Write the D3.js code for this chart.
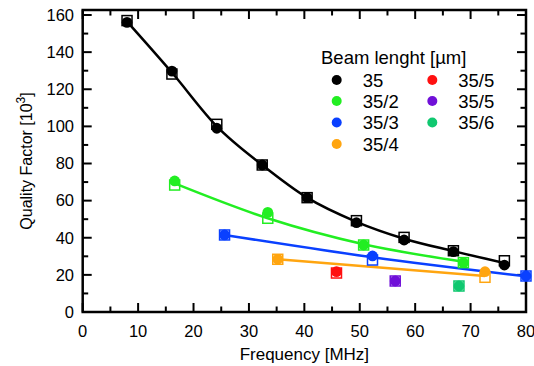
<!DOCTYPE html>
<html><head><meta charset="utf-8">
<script src="https://cdn.jsdelivr.net/npm/d3@7"></script>
<style>body{margin:0;background:#fff}svg{display:block;font-family:"Liberation Sans",Arial,sans-serif}</style>
</head><body><svg id="c" width="534" height="366"></svg>
<script>
// ---- data ----
const seriesNames = ["35","35/2","35/3","35/4","35/5","35/5","35/6"];
const seriesColors = ["#000000","#22ee22","#0a40ff","#ffa510","#ff1010","#7010d8","#10c870"];
const freqs = [
  [8, 16.1, 24.2, 32.4, 40.5, 49.4, 58, 66.9, 76.1],
  [16.6, 33.4, 50.7, 68.7],
  [25.6, 52.3, 80],
  [35.2, 72.6],
  [45.8],
  [56.4],
  [67.9]
];
const qCircle = [
  [156, 129.8, 99, 79.2, 61.6, 48.1, 38.8, 32.5, 25.3],
  [70.6, 53.7, 36.1, 26.6],
  [41.5, 30.2, 19.4],
  [28.4, 21.7],
  [21.7],
  [16.7],
  [14]
];
const qSquare = [
  [157, 128.2, 101.1, 79.2, 61.6, 49.2, 40.2, 33, 27.6],
  [68.4, 50.5, 36.1, 26.6],
  [41.5, 28, 19.4],
  [28.4, 18.7],
  [21],
  [16.7],
  [14]
];
const qFit = [
  [156.5, 129, 100, 79.2, 61.6, 48.6, 39.5, 32.8, 26.4],
  [69.3, 50.5, 36.5, 27.1],
  [41.5, 29.5, 19.2],
  [28.4, 19.4],
  null, null, null
];
const xTicks = [0,10,20,30,40,50,60,70,80];
const yTicks = [0,20,40,60,80,100,120,140,160];

// ---- layout ----
const svg = d3.select("#c");
const L = 82.7, R = 526, T = 10, B = 312;
const x = d3.scaleLinear().domain([0,80]).range([L,R]);
const y = d3.scaleLinear().domain([0,162.7]).range([B,T]);

const xMinor = d3.range(0,81,5), yMinor = d3.range(0,161,10);
const g = svg.append("g");
const tk = (x1,y1,x2,y2)=>g.append("line").attr("x1",x1).attr("y1",y1).attr("x2",x2).attr("y2",y2)
  .attr("stroke","#000").attr("stroke-width",2);
xMinor.forEach(v=>{
  const len = v%10===0 ? 9 : 5.5;
  tk(x(v),B,x(v),B-len); tk(x(v),T,x(v),T+len);
});
yMinor.forEach(v=>{
  const len = v%20===0 ? 9 : 5.5;
  tk(L,y(v),L+len,y(v)); tk(R,y(v),R-len,y(v));
});
g.append("rect").attr("x",L).attr("y",T).attr("width",R-L).attr("height",B-T)
  .attr("fill","none").attr("stroke","#000").attr("stroke-width",2.5);

// tick labels
svg.append("g").selectAll("text").data(xTicks).join("text")
  .attr("x",d=>x(d)).attr("y",337).attr("text-anchor","middle").attr("font-size",16.5).text(d=>d);
svg.append("g").selectAll("text").data(yTicks).join("text")
  .attr("x",74).attr("y",d=>y(d)+5.8).attr("text-anchor","end").attr("font-size",16.5).text(d=>d);

// axis titles
svg.append("text").attr("x",(L+R)/2).attr("y",360).attr("text-anchor","middle").attr("font-size",17)
  .text("Frequency [MHz]");
const yt = svg.append("text").attr("transform",`translate(32,${(T+B)/2}) rotate(-90)`)
  .attr("text-anchor","middle").attr("font-size",16);
yt.append("tspan").text("Quality Factor [10");
yt.append("tspan").attr("dy",-7).attr("font-size",12).text("3");
yt.append("tspan").attr("dy",7).text("]");

// lines
const line = d3.line().x(d=>x(d[0])).y(d=>y(d[1])).curve(d3.curveMonotoneX);
seriesNames.forEach((n,i)=>{
  if(!qFit[i]) return;
  svg.append("path").datum(freqs[i].map((f,j)=>[f,qFit[i][j]]))
    .attr("d",line).attr("fill","none").attr("stroke",seriesColors[i]).attr("stroke-width",2.5);
});
// circles then squares
seriesNames.forEach((n,i)=>{
  svg.append("g").selectAll("circle").data(freqs[i].map((f,j)=>[f,qCircle[i][j]])).join("circle")
    .attr("cx",d=>x(d[0])).attr("cy",d=>y(d[1])).attr("r",5.4).attr("fill",seriesColors[i]);
});
seriesNames.forEach((n,i)=>{
  svg.append("g").selectAll("rect").data(freqs[i].map((f,j)=>[f,qSquare[i][j]])).join("rect")
    .attr("x",d=>x(d[0])-5).attr("y",d=>y(d[1])-5).attr("width",10).attr("height",10)
    .attr("fill","none").attr("stroke",seriesColors[i]).attr("stroke-width",1.5);
});

// legend
svg.append("text").attr("x",321).attr("y",63.5).attr("font-size",18.5).text("Beam lenght [µm]");
const legPos = [[336.7,80],[336.7,101],[336.7,122.5],[336.7,144],[432.3,80],[432.3,101],[432.3,122.5]];
seriesNames.forEach((n,i)=>{
  const [lx,ly] = legPos[i];
  svg.append("circle").attr("cx",lx).attr("cy",ly).attr("r",5).attr("fill",seriesColors[i]);
  svg.append("text").attr("x",lx+26).attr("y",ly+6.7).attr("font-size",18.5).text(n);
});
</script></body></html>
